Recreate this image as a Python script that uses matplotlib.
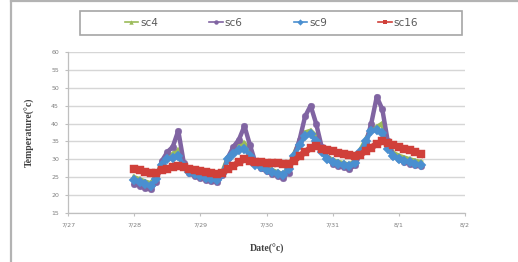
import numpy as np
import pandas as pd
import matplotlib
matplotlib.use("Agg")
import matplotlib.pyplot as plt
import matplotlib.dates as mdates
from matplotlib.patches import Rectangle
from matplotlib.lines import Line2D

# ------------------------------
# Data (2-hour readings, 7/28 00:00 -> 8/1 08:00)
# ------------------------------
times = pd.date_range("2013-07-28 00:00", "2013-08-01 08:00", freq="2h")

sc4 = [25.0, 24.4, 23.8, 23.3, 25.2, 29.0, 30.5, 31.5, 32.5, 28.8, 27.0, 26.3,
       25.8, 25.4, 25.1, 24.8, 26.5, 30.5, 32.5, 34.0, 34.5, 32.0, 29.0, 28.3,
       27.6, 27.0, 26.4, 25.9, 27.5, 31.5, 35.0, 37.5, 38.0, 36.5, 33.0, 30.8,
       29.8, 29.3, 28.9, 28.5, 29.5, 32.5, 35.5, 38.5, 39.0, 40.0, 34.0, 31.8,
       31.0, 30.5, 30.0, 29.6, 29.2]

sc6 = [23.2, 22.6, 22.0, 21.6, 23.8, 29.5, 32.0, 33.5, 38.0, 29.0, 26.2, 25.3,
       24.8, 24.3, 24.0, 23.7, 25.5, 30.5, 33.5, 35.5, 39.3, 34.0, 29.0, 27.5,
       26.6, 26.0, 25.4, 24.9, 26.3, 31.0, 35.5, 42.0, 45.0, 40.0, 33.5, 30.5,
       28.8, 28.2, 27.8, 27.3, 28.3, 31.5, 34.5, 40.0, 47.5, 44.0, 35.0, 31.0,
       30.0, 29.3, 28.8, 28.4, 28.0]

sc9 = [24.2, 23.6, 23.0, 22.6, 24.5, 28.5, 30.0, 30.5, 31.0, 28.0, 26.5, 25.8,
       25.3, 24.9, 24.6, 24.3, 26.0, 30.0, 31.5, 32.5, 33.0, 31.0, 28.5, 27.8,
       27.0, 26.5, 26.0, 25.6, 27.2, 31.0, 34.0, 36.5, 37.0, 35.0, 32.0, 30.0,
       29.2, 28.7, 28.4, 28.0, 29.0, 32.0, 35.0, 38.0, 38.2, 37.5, 33.0, 31.0,
       30.2, 29.6, 29.2, 28.8, 28.5]

sc16 = [27.3, 26.9, 26.4, 26.1, 26.3, 26.9, 27.4, 27.8, 28.1, 27.8, 27.4, 27.0,
        26.7, 26.5, 26.2, 26.0, 26.3, 27.2, 28.2, 29.2, 30.0, 29.6, 29.3, 29.2,
        29.0, 29.0, 28.9, 28.6, 28.7, 29.6, 30.9, 32.1, 33.1, 33.6, 33.0, 32.5,
        32.2, 31.9, 31.6, 31.3, 30.8, 31.3, 32.3, 33.3, 34.3, 35.0, 34.5, 34.0,
        33.5, 33.0, 32.6, 32.1, 31.4]

series = [
    ("sc4", sc4, "#9BBB59", "^", 2),
    ("sc6", sc6, "#8064A2", "o", 3),
    ("sc9", sc9, "#4A8FD0", "D", 4),
    ("sc16", sc16, "#D0403A", "s", 5),
]

y_ticks = list(range(15, 61, 5))

# ------------------------------
# Plot
# ------------------------------
fig = plt.figure(figsize=(5.18, 2.62), dpi=100)
ax = fig.add_axes([68 / 518, 1 - 213 / 262, 397 / 518, 161 / 262])

proxies = []
for name, vals, color, marker, z in series:
    lw = 4.5 if name == "sc16" else 3.2
    ms = 5.5 if name == "sc16" else 4.8
    ax.plot(times, vals, color=color, marker=marker, markersize=ms,
            linewidth=lw, markeredgewidth=0.3, markeredgecolor=color,
            solid_joinstyle="round", zorder=z)
    proxies.append(Line2D([], [], color=color, marker=marker, markersize=3.2,
                          linewidth=1.2, markeredgewidth=0, label=name))

ax.set_xlim(pd.Timestamp("2013-07-27"), pd.Timestamp("2013-08-02"))
ax.set_ylim(15, 60)
ax.set_yticks(y_ticks)
ax.xaxis.set_major_locator(mdates.DayLocator())
ax.xaxis.set_major_formatter(
    plt.FuncFormatter(lambda v, p: f"{mdates.num2date(v).month}/{mdates.num2date(v).day}"))

ax.grid(axis="y", color="#d6d6d6", linewidth=1.0)
ax.set_axisbelow(True)
for s in ["top", "right"]:
    ax.spines[s].set_visible(False)
for s in ["left", "bottom"]:
    ax.spines[s].set_color("#bfbfbf")
    ax.spines[s].set_linewidth(0.9)
ax.tick_params(labelsize=4.5, colors="#bfbfbf", labelcolor="#7f7f7f",
               length=2.5, width=0.8, pad=4)

ax.set_ylabel("Temperature(°c)", fontsize=7, fontweight="bold",
              family="Liberation Serif", color="#404040", labelpad=12)
ax.set_xlabel("Date(°c)", fontsize=7, fontweight="bold",
              family="Liberation Serif", color="#404040", labelpad=12)

# legend box
fig.patches.append(Rectangle((80 / 518, 1 - 35 / 262), 382 / 518, 24 / 262,
                             transform=fig.transFigure, fill=False,
                             edgecolor="#a6a6a6", linewidth=1.2))
leg = fig.legend(handles=proxies, loc="center", ncol=4,
                 bbox_to_anchor=(271.5 / 518, 1 - 23 / 262),
                 frameon=False, fontsize=7.5, handlelength=1.3,
                 handletextpad=0.2, columnspacing=4.9)
for t in leg.get_texts():
    t.set_color("#595959")

# outer frame
fig.add_artist(Line2D([11 / 518, 11 / 518], [0, 1 - 1 / 262],
                      transform=fig.transFigure, color="#b3b3b3", linewidth=1.6))
fig.add_artist(Line2D([11 / 518, 1], [1 - 1 / 262, 1 - 1 / 262],
                      transform=fig.transFigure, color="#b3b3b3", linewidth=1.6))

fig.savefig("out.png", dpi=100)
